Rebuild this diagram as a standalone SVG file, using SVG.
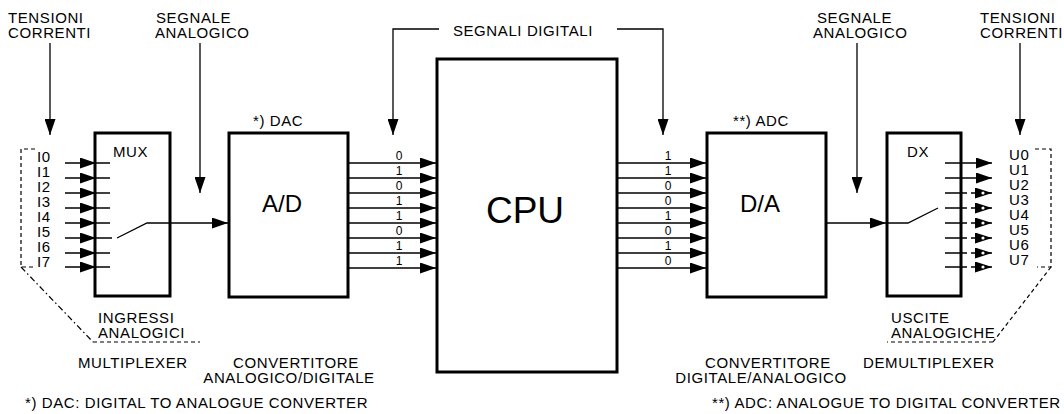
<svg xmlns="http://www.w3.org/2000/svg" width="1064" height="414" viewBox="0 0 1064 414">
<style>
text{font-family:"Liberation Sans",Arial,Helvetica,sans-serif;fill:#000}
.t{font-size:15px;letter-spacing:0.6px}
.b{font-size:12px;text-anchor:middle}
.box{fill:#fff;stroke:#000;stroke-width:3}
.ln{fill:none;stroke:#000;stroke-width:1.3}
.dash{fill:none;stroke:#000;stroke-width:1.2;stroke-dasharray:4 3}
.dd{fill:none;stroke:#000;stroke-width:1.2;stroke-dasharray:6 3 1.5 3}
</style>
<defs>
<marker id="ah" markerUnits="userSpaceOnUse" markerWidth="16" markerHeight="11" refX="16" refY="5.5" orient="auto" viewBox="0 0 16 11">
<path d="M0,0 L16,5.5 L0,11 z" fill="#000"/>
</marker>
<marker id="ahm" markerUnits="userSpaceOnUse" markerWidth="16" markerHeight="11" refX="15" refY="5.5" orient="auto" viewBox="0 0 16 11">
<path d="M0,0 L16,5.5 L0,11 z" fill="#000"/>
</marker>
<marker id="ao" markerUnits="userSpaceOnUse" markerWidth="17" markerHeight="11" refX="17" refY="5.5" orient="auto" viewBox="0 0 17 11">
<path d="M0,0 L17,5.5 L0,11 z" fill="#000"/>
<circle cx="8" cy="5.5" r="1.6" fill="#fff"/>
</marker>
</defs>

<g id="labels-top">
<text class="t" x="8" y="23">TENSIONI</text>
<text class="t" x="8" y="38">CORRENTI</text>
<text class="t" x="156" y="23">SEGNALE</text>
<text class="t" x="155" y="38">ANALOGICO</text>
<text class="t" x="523" y="36" text-anchor="middle">SEGNALI DIGITALI</text>
<text class="t" x="817" y="23">SEGNALE</text>
<text class="t" x="813" y="38">ANALOGICO</text>
<text class="t" x="980" y="23">TENSIONI</text>
<text class="t" x="980" y="38">CORRENTI</text>
</g>

<g id="mux">
<rect class="box" x="95" y="133" width="75" height="163"/>
<text class="t" x="113" y="157">MUX</text>
</g>
<g id="adc">
<rect class="box" x="229" y="133" width="119" height="164"/>
<text class="t" x="253" y="126">*) DAC</text>
<text x="282" y="212" font-size="24" text-anchor="middle">A/D</text>
</g>
<g id="cpu">
<rect class="box" x="437" y="59" width="180" height="313"/>
<text x="525" y="223" font-size="37" text-anchor="middle">CPU</text>
</g>
<g id="dac">
<rect class="box" x="707" y="133" width="119" height="164"/>
<text class="t" x="733" y="126">**) ADC</text>
<text x="760" y="212" font-size="24" text-anchor="middle">D/A</text>
</g>
<g id="dx">
<rect class="box" x="887" y="133" width="74" height="163"/>
<text class="t" x="907" y="157">DX</text>
</g>

<g id="connectors">
<path class="ln" d="M50,43 V135" marker-end="url(#ah)"/>
<path class="ln" d="M200,43 V193" marker-end="url(#ah)"/>
<path class="ln" d="M439,29 H393 V135" marker-end="url(#ah)"/>
<path class="ln" d="M617,29 H663 V135" marker-end="url(#ah)"/>
<path class="ln" d="M857,43 V193" marker-end="url(#ah)"/>
<path class="ln" d="M1020,43 V135" marker-end="url(#ah)"/>

<path class="ln" d="M65,163 H95 H110" marker-mid="url(#ahm)"/>
<path class="ln" d="M65,178 H95 H110" marker-mid="url(#ahm)"/>
<path class="ln" d="M65,193 H95 H110" marker-mid="url(#ahm)"/>
<path class="ln" d="M65,208 H95 H110" marker-mid="url(#ahm)"/>
<path class="ln" d="M65,223 H95 H110" marker-mid="url(#ahm)"/>
<path class="ln" d="M65,238 H95 H112" marker-mid="url(#ahm)"/>
<path class="ln" d="M65,253 H95 H110" marker-mid="url(#ahm)"/>
<path class="ln" d="M65,267 H95 H110" marker-mid="url(#ahm)"/>
<path class="ln" d="M117,238 L147,223 H228" marker-end="url(#ah)"/>

<path class="ln" d="M348,163 H436" marker-end="url(#ah)"/>
<path class="ln" d="M348,178 H436" marker-end="url(#ah)"/>
<path class="ln" d="M348,193 H436" marker-end="url(#ah)"/>
<path class="ln" d="M348,208 H436" marker-end="url(#ah)"/>
<path class="ln" d="M348,223 H436" marker-end="url(#ah)"/>
<path class="ln" d="M348,238 H436" marker-end="url(#ah)"/>
<path class="ln" d="M348,253 H436" marker-end="url(#ah)"/>
<path class="ln" d="M348,268 H436" marker-end="url(#ah)"/>

<path class="ln" d="M617,163 H706" marker-end="url(#ah)"/>
<path class="ln" d="M617,178 H706" marker-end="url(#ah)"/>
<path class="ln" d="M617,193 H706" marker-end="url(#ah)"/>
<path class="ln" d="M617,208 H706" marker-end="url(#ah)"/>
<path class="ln" d="M617,223 H706" marker-end="url(#ah)"/>
<path class="ln" d="M617,238 H706" marker-end="url(#ah)"/>
<path class="ln" d="M617,253 H706" marker-end="url(#ah)"/>
<path class="ln" d="M617,268 H706" marker-end="url(#ah)"/>

<path class="ln" d="M826,223 H886" marker-end="url(#ah)"/>
<path class="ln" d="M887,223 H908 L938,208"/>

<path class="ln" d="M945,163 H992" marker-end="url(#ah)"/>
<path class="ln" d="M945,178 H992" marker-end="url(#ah)"/>
<path class="ln" d="M945,193 H967 M971,193 H992" marker-end="url(#ao)"/>
<path class="ln" d="M945,208 H967 M971,208 H992" marker-end="url(#ao)"/>
<path class="ln" d="M945,223 H967 M971,223 H992" marker-end="url(#ao)"/>
<path class="ln" d="M945,238 H967 M971,238 H992" marker-end="url(#ao)"/>
<path class="ln" d="M945,253 H967 M971,253 H992" marker-end="url(#ao)"/>
<path class="ln" d="M945,267 H967 M971,267 H992" marker-end="url(#ao)"/>

<path class="dash" d="M35,149 H21 V267 H35"/>
<path class="dd" d="M21,267 L93,342"/>
<path class="dash" d="M93,342 H200"/>
<path class="dash" d="M1035,149 H1051 V267 H1037"/>
<path class="dash" d="M1051,267 L993,342"/>
<path class="dash" d="M993,342 H887"/>
</g>

<g id="io-labels">
<text class="t" x="37" y="162">I0</text>
<text class="t" x="37" y="177">I1</text>
<text class="t" x="37" y="192">I2</text>
<text class="t" x="37" y="207">I3</text>
<text class="t" x="37" y="222">I4</text>
<text class="t" x="37" y="237">I5</text>
<text class="t" x="37" y="252">I6</text>
<text class="t" x="37" y="267">I7</text>
<text class="t" x="1009" y="160">U0</text>
<text class="t" x="1009" y="175">U1</text>
<text class="t" x="1009" y="190">U2</text>
<text class="t" x="1009" y="205">U3</text>
<text class="t" x="1009" y="220">U4</text>
<text class="t" x="1009" y="235">U5</text>
<text class="t" x="1009" y="250">U6</text>
<text class="t" x="1009" y="265">U7</text>
</g>

<g id="bits">
<text class="b" x="399" y="159.5">0</text>
<text class="b" x="399" y="174.5">1</text>
<text class="b" x="399" y="189.5">0</text>
<text class="b" x="399" y="204.5">1</text>
<text class="b" x="399" y="219.5">1</text>
<text class="b" x="399" y="234.5">0</text>
<text class="b" x="399" y="249.5">1</text>
<text class="b" x="399" y="264.5">1</text>
<text class="b" x="668" y="159.5">1</text>
<text class="b" x="668" y="174.5">1</text>
<text class="b" x="668" y="189.5">0</text>
<text class="b" x="668" y="204.5">0</text>
<text class="b" x="668" y="219.5">1</text>
<text class="b" x="668" y="234.5">0</text>
<text class="b" x="668" y="249.5">1</text>
<text class="b" x="668" y="264.5">0</text>
</g>

<g id="labels-bottom">
<text class="t" x="98" y="323">INGRESSI</text>
<text class="t" x="98" y="338">ANALOGICI</text>
<text class="t" x="78" y="368">MULTIPLEXER</text>
<text class="t" x="296" y="368" text-anchor="middle">CONVERTITORE</text>
<text class="t" x="289" y="383" text-anchor="middle">ANALOGICO/DIGITALE</text>
<text class="t" x="25" y="408">*) DAC: DIGITAL TO ANALOGUE CONVERTER</text>
<text class="t" x="891" y="323">USCITE</text>
<text class="t" x="891" y="338">ANALOGICHE</text>
<text class="t" x="863" y="368">DEMULTIPLEXER</text>
<text class="t" x="768" y="368" text-anchor="middle">CONVERTITORE</text>
<text class="t" x="761" y="383" text-anchor="middle">DIGITALE/ANALOGICO</text>
<text class="t" x="712" y="408">**) ADC: ANALOGUE TO DIGITAL CONVERTER</text>
</g>
</svg>
